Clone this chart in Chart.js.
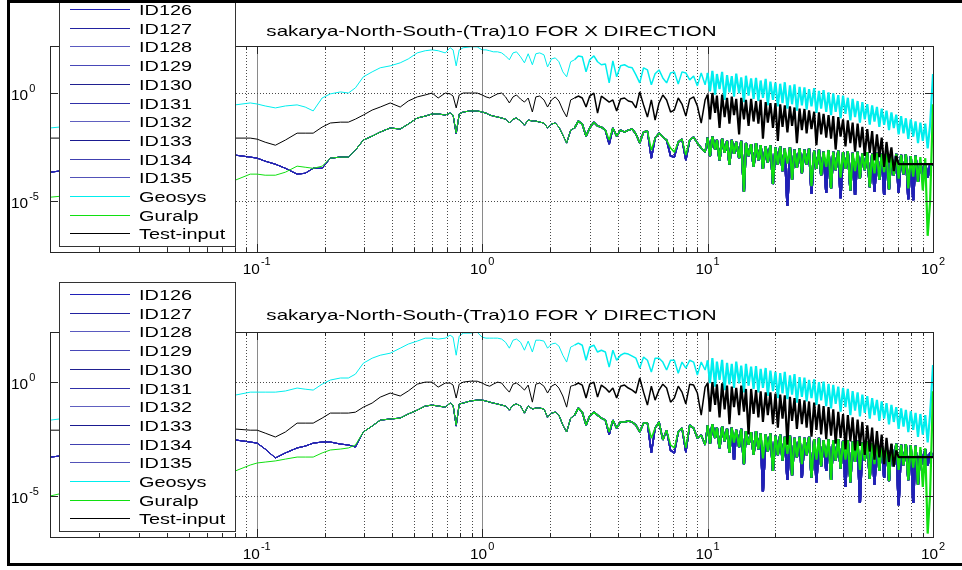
<!DOCTYPE html>
<html lang="en">
<head>
<meta charset="UTF-8">
<title>sakarya-North-South-(Tra)10 spectra</title>
<script src="https://cdn.jsdelivr.net/npm/chart.js@4"></script>
<style>
  html, body { margin: 0; padding: 0; background: #fff; }
  #page { position: relative; width: 962px; height: 570px; overflow: hidden; }
  #chartX { position: absolute; left: 0; top: 0; }
  #chartY { position: absolute; left: 0; top: 275px; }
  #frame { position: absolute; left: 7px; top: 0; width: 1000px; height: 560px;
           border: 3px solid #000; border-right: none; pointer-events: none; }
</style>
</head>
<body>
<div id="page">
  <canvas id="chartX" width="962" height="285"></canvas>
  <canvas id="chartY" width="962" height="295"></canvas>
  <div id="frame"></div>
</div>

<script>
// ---- data (amplitudes stored as log10 values) ----
const seriesNames = ['ID126','ID127','ID128','ID129','ID130','ID131','ID132','ID133','ID134','ID135','Geosys','Guralp','Test-input'];
const xTickExps = [-1, 0, 1, 2];
const yTickExps = [0, -5];
const xRange = [0.0121, 100];
const yRangeX = [-7.35, 2.2];
const yRangeY = [-6.8, 2.2];

// frequency grid (Hz)
const freqLow = [0.0121,0.0133,0.0803,0.0936,0.1005,0.109,0.121,0.134,0.151,0.164,
  0.178,0.195,0.212,0.235,0.255,0.274,0.297,0.325,0.353,0.391,
  0.433,0.470,0.515,0.559,0.600,0.638,0.686,0.721,0.743,0.767,
  0.791,0.824,0.885,0.950];
const freqMid = [1.00,1.04,1.08,1.12,1.17,1.22,1.27,1.32,1.37,1.42,
  1.48,1.54,1.60,1.67,1.73,1.80,1.88,1.95,2.03,2.11,
  2.19,2.28,2.37,2.47,2.57,2.67,2.78,2.89,3.00,3.13,
  3.25,3.38,3.52,3.66,3.80,3.95,4.11,4.28,4.45,4.63,
  4.81,5.00,5.20,5.41,5.63,5.85,6.09,6.33,6.58,6.85,
  7.12,7.41,7.70,8.01,8.33,8.67,9.01,9.37,9.75];
const freqHigh = [10.0,10.25,10.5,10.8,11.0,11.3,11.6,11.9,12.2,12.5,
  12.8,13.1,13.4,13.8,14.1,14.5,14.8,15.2,15.6,16.0,
  16.4,16.8,17.2,17.6,18.1,18.5,19.0,19.5,20.0,20.5,
  21.0,21.5,22.0,22.6,23.2,23.7,24.3,24.9,25.6,26.2,
  26.9,27.5,28.2,28.9,29.7,30.4,31.2,31.9,32.7,33.6,
  34.4,35.3,36.1,37.0,38.0,38.9,39.9,40.9,41.9,43.0,
  44.0,45.1,46.3,47.4,48.6,49.8,51.1,52.4,53.7,55.0,
  56.4,57.8,59.2,60.7,62.2,63.8,65.4,67.0,68.7,70.4,
  72.2,74.0,75.8,77.7,79.7,81.7,83.7,85.8,87.9,90.1,
  92.4,94.7,97.1,100];

// ---- X direction ----
const geoLowX = [-1.60,-1.56,-0.53,-0.44,-0.49,-0.58,-0.67,-0.58,-0.53,-0.63,
  -0.81,-0.21,-0.02,0.07,0.02,0.26,0.77,1.00,1.19,1.28,
  1.42,1.60,1.88,1.98,2.02,1.98,1.88,2.12,2.02,1.28,
  2.02,2.12,2.16,2.16];
const testLowX = [-2.07,-2.07,-2.07,-2.07,-2.12,-2.26,-2.40,-2.16,-1.84,-1.84,
  -1.84,-1.56,-1.37,-1.33,-1.33,-1.19,-1.00,-0.77,-0.63,-0.44,
  -0.63,-0.35,-0.16,-0.07,0.02,-0.21,0.02,-0.02,-0.12,-0.67,
  -0.07,0.02,0.02,0.02];
const guraLowX = [-4.81,-4.77,-4.02,-3.74,-3.74,-3.79,-3.79,-3.65,-3.37,-3.42,
  -3.47,-3.37,-3.00,-2.95,-2.95,-2.63,-2.16,-1.98,-1.79,-1.60,
  -1.65,-1.42,-1.14,-1.05,-0.95,-0.95,-1.00,-0.91,-1.00,-1.84,
  -0.95,-0.86,-0.81,-0.81];
const idLowX = [-3.65,-3.60,-2.86,-2.95,-3.00,-3.14,-3.28,-3.47,-3.74,-3.70,
  -3.47,-3.47,-3.00,-2.95,-2.95,-2.63,-2.16,-1.98,-1.79,-1.60,
  -1.65,-1.42,-1.14,-1.05,-0.95,-0.95,-1.00,-0.91,-1.00,-1.88,
  -0.95,-0.86,-0.81,-0.81];

const geoMidX = [2.02,2.02,1.98,1.93,1.93,1.88,1.74,1.56,1.88,1.93,
  1.70,1.42,1.84,1.33,1.84,1.88,1.79,1.23,1.60,1.65,
  1.47,1.00,0.77,1.47,1.56,1.74,1.70,1.00,1.56,1.74,
  1.47,1.33,1.37,0.49,1.51,0.77,1.28,1.33,1.23,1.19,
  0.86,0.49,1.19,1.09,0.40,0.91,1.09,0.72,0.49,0.95,
  1.00,0.44,1.00,0.95,0.63,0.81,0.35,0.95,0.40];
const testMidX = [-0.07,-0.16,-0.21,-0.12,-0.02,0.02,-0.16,-0.44,-0.16,-0.07,
  -0.26,-0.40,-0.21,-0.86,-0.16,-0.12,-0.30,-0.63,-0.30,-0.16,
  -0.35,-0.77,-1.09,-0.30,-0.21,-0.12,-0.21,-0.63,-0.12,0.02,
  -0.91,-0.12,-0.26,-0.40,-0.30,-0.81,-0.26,-0.21,-0.35,-0.40,
  -0.67,0.07,-0.53,-1.09,-0.30,-1.23,-0.44,-0.07,-0.30,-0.86,
  -0.77,-0.21,-0.49,-1.05,-0.26,-0.16,-0.58,-1.37,-0.30];
const guraMidX = [-0.86,-0.91,-1.00,-1.05,-1.09,-1.14,-1.19,-1.37,-1.19,-1.14,
  -1.28,-1.47,-1.23,-1.28,-1.28,-1.33,-1.37,-1.60,-1.42,-1.37,
  -1.56,-1.93,-2.30,-1.70,-1.60,-1.28,-1.42,-1.98,-1.60,-1.33,
  -1.51,-1.56,-1.70,-2.16,-1.60,-1.98,-1.70,-1.79,-1.70,-1.65,
  -1.88,-2.30,-1.79,-1.74,-2.63,-2.07,-1.84,-2.02,-2.16,-2.53,
  -2.72,-2.26,-2.12,-2.86,-2.16,-2.02,-2.30,-2.53,-2.72];
const idMidX = [-0.86,-0.91,-1.00,-1.05,-1.09,-1.14,-1.19,-1.37,-1.19,-1.14,
  -1.28,-1.47,-1.23,-1.28,-1.28,-1.33,-1.37,-1.60,-1.42,-1.37,
  -1.56,-1.93,-2.30,-1.70,-1.60,-1.28,-1.42,-1.98,-1.60,-1.33,
  -1.51,-1.56,-1.70,-2.35,-1.60,-1.98,-1.70,-1.79,-1.70,-1.65,
  -1.88,-2.30,-1.79,-1.74,-3.00,-2.07,-1.84,-2.02,-2.16,-2.90,
  -2.95,-2.26,-2.12,-3.09,-2.16,-2.02,-2.30,-2.53,-2.72];

const geoHighX = [0.95,0.10,1.05,-0.05,0.90,0.20,1.00,-0.30,0.85,0.05,
  0.80,-0.15,0.92,0.00,0.75,-0.40,0.82,-0.10,0.70,-0.25,
  0.72,-0.35,0.60,-0.20,0.68,-0.55,0.55,-0.30,0.50,-0.60,
  0.45,-0.45,0.52,-0.70,0.38,-0.50,0.42,-0.80,0.30,-0.55,
  0.28,-0.75,0.20,-0.60,0.25,-0.90,0.12,-0.70,0.15,-0.85,
  0.05,-1.00,0.00,-0.85,-0.08,-1.15,-0.10,-0.95,-0.20,-1.25,
  -0.25,-1.10,-0.35,-1.35,-0.40,-1.20,-0.50,-1.45,-0.55,-1.30,
  -0.62,-1.55,-0.70,-1.45,-0.80,-1.70,-0.88,-1.60,-0.98,-1.90,
  -1.05,-1.85,-1.15,-2.10,-1.20,-2.00,-1.30,-2.30,-1.35,-2.20,
  -1.40,-2.55,-1.45,0.90];
const testHighX = [-0.05,-1.20,0.02,-0.90,-0.10,-1.60,-0.05,-1.10,-0.20,-1.40,
  -0.15,-1.00,-0.25,-1.90,-0.20,-1.20,-0.30,-1.50,-0.25,-1.30,
  -0.35,-1.40,-0.30,-2.10,-0.40,-1.35,-0.45,-1.60,-0.45,-2.20,
  -0.50,-1.55,-0.55,-1.80,-0.60,-1.50,-0.65,-2.30,-0.70,-1.70,
  -0.72,-1.85,-0.78,-1.65,-0.85,-2.40,-0.88,-1.90,-0.95,-2.05,
  -1.00,-2.10,-1.05,-2.60,-1.10,-2.00,-1.20,-2.45,-1.25,-2.30,
  -1.35,-2.70,-1.40,-2.50,-1.55,-2.90,-1.65,-2.75,-1.75,-3.10,
  -1.90,-2.95,-2.05,-3.40,-2.25,-3.20,-2.50,-3.60,-2.90,-3.28,
  -3.28,-3.28,-3.28,-3.28,-3.28,-3.28,-3.28,-3.28,-3.28,-3.28,
  -3.28,-3.28,-3.28,-3.28];
const guraHighX = [-2.05,-2.90,-2.00,-2.60,-2.15,-3.10,-2.10,-2.75,-2.20,-3.30,
  -2.15,-2.80,-2.25,-3.00,-2.20,-4.55,-2.30,-2.90,-2.35,-3.40,
  -2.30,-3.10,-2.40,-3.50,-2.45,-3.20,-2.40,-4.20,-2.50,-3.30,
  -2.45,-3.60,-2.55,-3.25,-2.50,-4.00,-2.60,-3.45,-2.55,-3.70,
  -2.60,-3.30,-2.55,-4.30,-2.65,-3.50,-2.60,-3.80,-2.70,-3.40,
  -2.62,-4.40,-2.70,-3.55,-2.65,-3.90,-2.72,-3.50,-2.68,-4.50,
  -2.75,-3.60,-2.70,-3.95,-2.78,-3.55,-2.72,-4.35,-2.80,-3.70,
  -2.75,-4.00,-2.80,-3.65,-2.78,-4.45,-2.85,-3.80,-2.80,-3.95,
  -2.85,-3.75,-2.82,-4.40,-2.90,-3.85,-2.88,-4.10,-2.95,-4.50,
  -3.00,-6.60,-5.00,-0.50];
const idHighX = [-2.05,-2.90,-2.00,-2.60,-2.15,-3.10,-2.10,-2.75,-2.20,-3.30,
  -2.15,-2.80,-2.25,-3.00,-2.20,-4.55,-2.30,-2.90,-2.35,-3.40,
  -2.30,-3.10,-2.40,-3.50,-2.45,-3.20,-2.40,-4.20,-2.50,-3.30,
  -2.45,-3.60,-2.55,-5.20,-2.50,-4.00,-2.60,-3.45,-2.55,-3.70,
  -2.60,-3.30,-2.55,-4.65,-2.65,-3.50,-2.60,-3.80,-2.70,-4.60,
  -2.62,-4.40,-2.70,-3.55,-2.65,-4.85,-2.72,-3.50,-2.68,-4.50,
  -2.75,-4.70,-2.70,-3.95,-2.78,-3.55,-2.72,-4.35,-2.80,-4.55,
  -2.75,-4.00,-2.80,-4.70,-2.78,-4.45,-2.85,-3.80,-2.80,-4.60,
  -2.85,-3.75,-2.82,-4.90,-2.90,-4.95,-2.88,-4.10,-3.20,-3.80,
  -3.25,-3.90,-3.30,-3.30];

// ---- Y direction ----
const geoLowY = [-1.67,-1.62,-0.57,-0.44,-0.44,-0.44,-0.44,-0.39,-0.26,-0.31,
  -0.35,-0.09,0.09,0.18,0.18,0.35,0.83,1.05,1.18,1.27,
  1.49,1.67,1.80,1.93,1.93,1.89,1.93,2.06,1.97,1.18,
  2.02,2.15,2.15,2.19];
const testLowY = [-2.11,-2.11,-2.06,-2.11,-2.11,-2.24,-2.41,-2.19,-1.80,-1.80,
  -1.80,-1.58,-1.36,-1.36,-1.36,-1.32,-1.10,-0.92,-0.66,-0.48,
  -0.61,-0.39,-0.09,0.00,0.00,-0.22,-0.04,-0.04,-0.13,-0.70,
  -0.09,0.00,0.04,0.04];
const guraLowY = [-5.00,-4.91,-3.90,-3.64,-3.55,-3.51,-3.46,-3.38,-3.29,-3.29,
  -3.29,-3.11,-2.98,-2.94,-2.89,-2.76,-2.19,-1.93,-1.67,-1.62,
  -1.58,-1.40,-1.23,-1.05,-1.01,-1.05,-1.10,-0.92,-1.01,-1.89,
  -0.96,-0.92,-0.83,-0.79];
const idLowY = [-3.29,-3.25,-2.54,-2.63,-2.68,-2.94,-3.33,-3.11,-2.89,-2.81,
  -2.68,-2.63,-2.63,-2.72,-2.76,-2.85,-2.19,-1.93,-1.67,-1.62,
  -1.58,-1.40,-1.23,-1.05,-1.01,-1.05,-1.10,-0.92,-1.01,-1.93,
  -0.96,-0.92,-0.83,-0.79];

const geoMidY = [1.97,1.93,1.93,1.93,1.93,1.89,1.75,1.49,1.84,1.89,
  1.75,1.40,1.80,1.32,1.84,1.84,1.80,1.49,1.67,1.71,
  1.58,1.18,0.88,1.54,1.62,1.71,1.62,0.96,1.54,1.62,
  1.32,1.40,1.32,0.66,1.40,0.96,1.18,1.27,1.23,1.14,
  1.05,0.61,1.10,0.96,0.44,1.05,1.05,0.88,0.53,0.96,
  0.96,0.39,0.88,0.61,0.96,0.88,0.31,0.88,0.53];
const testMidY = [-0.04,-0.13,-0.18,-0.09,0.00,-0.04,-0.26,-0.44,-0.09,-0.04,
  -0.18,-0.35,-0.13,-0.88,-0.09,-0.04,-0.18,-0.48,-0.18,-0.09,
  -0.26,-0.61,-1.10,-0.18,-0.13,-0.04,-0.13,-0.70,-0.09,0.00,
  -0.66,-0.13,-0.26,-0.44,-0.26,-0.70,-0.18,-0.13,-0.26,-0.35,
  -0.48,0.18,-0.44,-1.01,-0.18,-0.79,-0.35,-0.09,-0.26,-0.88,
  -0.70,-0.18,-0.44,-0.96,-0.09,-0.13,-0.48,-1.45,-0.22];
const guraMidY = [-0.79,-0.83,-0.88,-0.92,-0.96,-1.01,-1.05,-1.23,-1.01,-0.96,
  -1.05,-1.36,-1.05,-1.18,-1.14,-1.14,-1.18,-1.54,-1.36,-1.32,
  -1.45,-1.89,-2.19,-1.58,-1.45,-1.14,-1.32,-1.89,-1.49,-1.32,
  -1.45,-1.58,-1.67,-2.19,-1.67,-2.02,-1.75,-1.75,-1.71,-1.75,
  -1.89,-2.19,-1.80,-1.80,-2.46,-2.02,-1.75,-2.54,-2.11,-2.76,
  -2.89,-2.19,-2.02,-2.89,-1.89,-2.02,-2.46,-2.32,-2.76];
const idMidY = [-0.79,-0.83,-0.88,-0.92,-0.96,-1.01,-1.05,-1.23,-1.01,-0.96,
  -1.05,-1.36,-1.05,-1.18,-1.14,-1.14,-1.18,-1.54,-1.36,-1.32,
  -1.45,-1.89,-2.19,-1.58,-1.45,-1.14,-1.32,-1.89,-1.49,-1.32,
  -1.45,-1.58,-1.67,-2.30,-1.67,-2.02,-1.75,-1.75,-1.71,-1.75,
  -1.89,-2.19,-1.80,-1.80,-3.11,-2.02,-1.75,-2.54,-2.11,-3.00,
  -3.11,-2.19,-2.02,-3.07,-1.89,-2.02,-2.46,-2.32,-2.76];

const geoHighY = [0.95,-0.05,1.05,-0.20,0.90,0.10,0.98,-0.35,0.85,-0.10,
  0.80,-0.25,0.90,-0.05,0.72,-0.45,0.80,-0.15,0.68,-0.30,
  0.70,-0.45,0.58,-0.25,0.62,-0.60,0.50,-0.40,0.45,-0.70,
  0.40,-0.50,0.45,-0.75,0.30,-0.55,0.35,-0.90,0.22,-0.65,
  0.20,-0.85,0.10,-0.70,0.12,-1.00,0.00,-0.80,0.02,-1.05,
  -0.08,-1.15,-0.12,-0.95,-0.20,-1.30,-0.25,-1.10,-0.30,-1.45,
  -0.40,-1.25,-0.45,-1.50,-0.55,-1.35,-0.62,-1.60,-0.70,-1.45,
  -0.78,-1.70,-0.85,-1.60,-0.92,-1.85,-1.00,-1.75,-1.10,-2.05,
  -1.15,-1.95,-1.22,-2.20,-1.28,-2.10,-1.35,-2.40,-1.40,-2.30,
  -1.45,-2.65,-1.40,0.75];
const testHighY = [-0.05,-1.30,0.00,-1.00,-0.10,-1.55,-0.05,-1.20,-0.15,-1.85,
  -0.20,-1.10,-0.25,-1.45,-0.15,-1.30,-0.30,-2.30,-0.30,-1.40,
  -0.35,-1.55,-0.40,-1.75,-0.45,-1.45,-0.45,-1.85,-0.50,-2.00,
  -0.55,-1.60,-0.58,-2.75,-0.65,-1.70,-0.70,-2.05,-0.75,-1.85,
  -0.80,-2.00,-0.85,-2.40,-0.90,-2.10,-0.98,-2.30,-1.05,-2.50,
  -1.10,-2.35,-1.20,-2.70,-1.30,-2.45,-1.40,-2.95,-1.45,-2.60,
  -1.55,-3.00,-1.65,-2.80,-1.75,-3.20,-1.90,-3.05,-2.00,-3.40,
  -2.15,-3.30,-2.30,-3.60,-2.45,-3.50,-2.70,-3.70,-3.00,-3.29,
  -3.29,-3.29,-3.29,-3.29,-3.29,-3.29,-3.29,-3.29,-3.29,-3.29,
  -3.29,-3.29,-3.29,-3.29];
const guraHighY = [-1.90,-2.70,-1.85,-2.45,-2.00,-2.90,-1.95,-2.60,-2.05,-3.10,
  -2.00,-2.65,-2.10,-2.85,-2.05,-3.60,-2.15,-2.75,-2.20,-3.20,
  -2.15,-2.95,-2.25,-3.35,-2.30,-3.05,-2.25,-3.90,-2.35,-3.20,
  -2.30,-3.45,-2.40,-3.15,-2.35,-4.10,-2.45,-3.30,-2.40,-3.60,
  -2.45,-3.20,-2.40,-4.20,-2.50,-3.40,-2.45,-3.70,-2.55,-3.30,
  -2.50,-4.30,-2.55,-3.45,-2.50,-3.80,-2.58,-3.40,-2.55,-4.40,
  -2.60,-3.50,-2.58,-3.85,-2.65,-3.45,-2.60,-4.25,-2.68,-3.60,
  -2.62,-3.90,-2.70,-3.55,-2.68,-4.35,-2.72,-3.70,-2.70,-3.85,
  -2.75,-3.65,-2.72,-4.30,-2.78,-3.75,-2.80,-4.50,-2.85,-4.60,
  -2.90,-6.65,-4.90,-0.40];
const idHighY = [-1.90,-2.70,-1.85,-2.45,-2.00,-2.90,-1.95,-2.60,-2.05,-3.10,
  -2.00,-3.40,-2.10,-2.85,-2.05,-3.60,-2.15,-2.75,-2.20,-3.20,
  -2.15,-2.95,-2.25,-4.80,-2.30,-3.05,-2.25,-3.90,-2.35,-3.20,
  -2.30,-3.45,-2.40,-4.30,-2.35,-4.10,-2.45,-3.30,-2.40,-4.20,
  -2.45,-3.20,-2.40,-4.20,-2.50,-4.40,-2.45,-3.70,-2.55,-3.90,
  -2.50,-4.30,-2.55,-3.45,-2.50,-3.80,-2.58,-4.60,-2.55,-4.40,
  -2.60,-3.50,-2.58,-5.30,-2.65,-3.45,-2.60,-4.25,-2.68,-4.50,
  -2.62,-3.90,-2.70,-4.20,-2.68,-4.35,-2.72,-3.70,-2.70,-5.40,
  -2.75,-3.65,-2.72,-4.30,-2.78,-5.30,-2.80,-4.50,-3.00,-3.60,
  -2.95,-3.65,-3.10,-3.20];

// ---- styles ----
const idColors = ['#2020b8','#2222a0','#5a5ac0','#4848b8','#202090','#3030a8','#6060c0','#1a1a90','#4040b0','#5252b8'];
const geoColor = '#00eeee';
const guraColor = '#10e010';
const testColor = '#000000';
const FONT = '"Liberation Sans", Arial, sans-serif';

function toPoints(lo, mid, hi) {
  const f = freqLow.concat(freqMid, freqHigh);
  const v = lo.concat(mid, hi);
  return f.map((fx, i) => ({ x: fx, y: Math.pow(10, v[i]) }));
}

// the spectra get very dense above a few Hz: thicker strokes there so the band reads as filled
function segWidth(c) {
  const f = c.p0.parsed.x;
  if (f >= 9.9) return 2.2;
  if (f >= 2.5) return 1.5;
  return 1;
}

function stretchedText(ctx, str, x, y, sx, align) {
  const w = ctx.measureText(str).width * sx;
  const x0 = align === 'center' ? x - w / 2 : x;
  ctx.save();
  ctx.translate(x0, y);
  ctx.scale(sx, 1);
  ctx.textAlign = 'left';
  ctx.fillText(str, 0, 0);
  ctx.restore();
  return w;
}

// MATLAB-like axes: dotted grid, inner ticks, 10^n labels, title and boxed legend
const matlabAxes = {
  id: 'matlabAxes',
  beforeDatasetsDraw(chart) {
    const { ctx, chartArea: a, scales: { x, y } } = chart;
    ctx.save();
    ctx.lineWidth = 1;
    for (let d = -2; d <= 1; d++) {
      for (let m = 1; m <= 9; m++) {
        const v = m * Math.pow(10, d);
        if (v <= x.min || v >= x.max) continue;
        const px = Math.round(x.getPixelForValue(v)) + 0.5;
        ctx.strokeStyle = m === 1 ? '#8a8a8a' : '#4a4a4a';
        ctx.setLineDash(m === 1 ? [] : [1, 2]);
        ctx.beginPath(); ctx.moveTo(px, a.top); ctx.lineTo(px, a.bottom); ctx.stroke();
      }
    }
    ctx.strokeStyle = '#4a4a4a';
    ctx.setLineDash([1, 2]);
    yTickExps.forEach(e => {
      const py = Math.round(y.getPixelForValue(Math.pow(10, e))) + 0.5;
      ctx.beginPath(); ctx.moveTo(a.left, py); ctx.lineTo(a.right, py); ctx.stroke();
    });
    ctx.restore();
  },
  afterDatasetsDraw(chart, args, opts) {
    const { ctx, chartArea: a, scales: { x, y } } = chart;
    ctx.save();
    ctx.lineWidth = 1;
    ctx.strokeStyle = '#262626';
    ctx.strokeRect(a.left + 0.5, a.top + 0.5, a.right - a.left, a.bottom - a.top);

    // x ticks
    for (let d = -2; d <= 2; d++) {
      for (let m = 1; m <= 9; m++) {
        const v = m * Math.pow(10, d);
        if (v < x.min || v > x.max) continue;
        const px = Math.round(x.getPixelForValue(v)) + 0.5;
        const len = m === 1 ? 8 : 4;
        ctx.beginPath();
        ctx.moveTo(px, a.bottom); ctx.lineTo(px, a.bottom - len);
        ctx.moveTo(px, a.top); ctx.lineTo(px, a.top + len);
        ctx.stroke();
      }
    }
    // y ticks
    yTickExps.forEach(e => {
      const py = Math.round(y.getPixelForValue(Math.pow(10, e))) + 0.5;
      ctx.beginPath();
      ctx.moveTo(a.left, py); ctx.lineTo(a.left + 8, py);
      ctx.moveTo(a.right, py); ctx.lineTo(a.right - 8, py);
      ctx.stroke();
    });

    // tick labels
    ctx.fillStyle = '#000';
    ctx.textBaseline = 'alphabetic';
    xTickExps.forEach(e => {
      const px = x.getPixelForValue(Math.pow(10, e));
      ctx.font = '14px ' + FONT;
      const w10 = ctx.measureText('10').width * 1.1;
      ctx.font = '10px ' + FONT;
      const ws = ctx.measureText(String(e)).width * 1.1;
      const x0 = px - (w10 + ws + 1) / 2;
      ctx.font = '14px ' + FONT;
      stretchedText(ctx, '10', x0, a.bottom + 22, 1.1, 'left');
      ctx.font = '10px ' + FONT;
      stretchedText(ctx, String(e), x0 + w10 + 1, a.bottom + 13, 1.1, 'left');
    });
    yTickExps.forEach(e => {
      const py = y.getPixelForValue(Math.pow(10, e));
      ctx.font = '14px ' + FONT;
      const w10 = stretchedText(ctx, '10', 11, py + 6.5, 1.1, 'left');
      ctx.font = '10px ' + FONT;
      stretchedText(ctx, String(e), 11 + w10 + 1, py - 1, 1.1, 'left');
    });

    // title
    ctx.font = '15px ' + FONT;
    stretchedText(ctx, opts.title, (a.left + a.right) / 2, opts.titleY, 1.37, 'center');

    // legend box
    const ds = chart.data.datasets;
    const step = 18.7;
    const first = opts.legendTop;
    const last = first + step * (ds.length - 1);
    ctx.fillStyle = '#fff';
    ctx.fillRect(59.5, first - 11.7, 176, last - first + 24.4);
    ctx.strokeStyle = '#333';
    ctx.strokeRect(59.5, Math.round(first - 11.7) + 0.5, 176, Math.round(last - first + 24.4));
    ctx.font = '14px ' + FONT;
    ds.forEach((d, i) => {
      const cy = Math.round(first + step * i) + 0.5;
      ctx.strokeStyle = d.borderColor;
      ctx.beginPath(); ctx.moveTo(70, cy); ctx.lineTo(130, cy); ctx.stroke();
      ctx.fillStyle = '#000';
      stretchedText(ctx, d.label, 139, cy + 5.5, 1.42, 'left');
    });
    ctx.restore();
  }
};

function buildDatasets(idPts, geoPts, guraPts, testPts) {
  const sets = seriesNames.slice(0, 10).map((name, i) => ({
    label: name, data: idPts.slice(), borderColor: idColors[i], order: 3
  }));
  sets.push({ label: 'Geosys', data: geoPts, borderColor: geoColor, order: 2 });
  sets.push({ label: 'Guralp', data: guraPts, borderColor: guraColor, order: 1 });
  sets.push({ label: 'Test-input', data: testPts, borderColor: testColor, order: 0 });
  sets.forEach(s => {
    s.borderWidth = 1; s.pointRadius = 0; s.fill = false; s.tension = 0; s.clip = 0;
    s.borderJoinStyle = 'bevel';
    s.segment = { borderWidth: segWidth };
    s.backgroundColor = s.borderColor;
  });
  return sets;
}

function makeChart(id, datasets, yRange, pad, title, titleY, legendTop) {
  return new Chart(document.getElementById(id), {
    type: 'line',
    data: { datasets: datasets },
    options: {
      responsive: false,
      animation: false,
      events: [],
      layout: { padding: pad },
      plugins: {
        legend: { display: false },
        tooltip: { enabled: false },
        matlabAxes: { title: title, titleY: titleY, legendTop: legendTop }
      },
      scales: {
        x: { type: 'logarithmic', min: xRange[0], max: xRange[1], display: false },
        y: { type: 'logarithmic', min: Math.pow(10, yRange[0]), max: Math.pow(10, yRange[1]), display: false }
      }
    },
    plugins: [matlabAxes]
  });
}

makeChart('chartX',
  buildDatasets(toPoints(idLowX, idMidX, idHighX), toPoints(geoLowX, geoMidX, geoHighX),
                toPoints(guraLowX, guraMidX, guraHighX), toPoints(testLowX, testMidX, testHighX)),
  yRangeX, { left: 50, right: 29, top: 46, bottom: 33 },
  'sakarya-North-South-(Tra)10 FOR X DIRECTION', 36, 9);

makeChart('chartY',
  buildDatasets(toPoints(idLowY, idMidY, idHighY), toPoints(geoLowY, geoMidY, geoHighY),
                toPoints(guraLowY, guraMidY, guraHighY), toPoints(testLowY, testMidY, testHighY)),
  yRangeY, { left: 50, right: 29, top: 57, bottom: 33 },
  'sakarya-North-South-(Tra)10 FOR Y DIRECTION', 45, 19);
</script>
</body>
</html>
